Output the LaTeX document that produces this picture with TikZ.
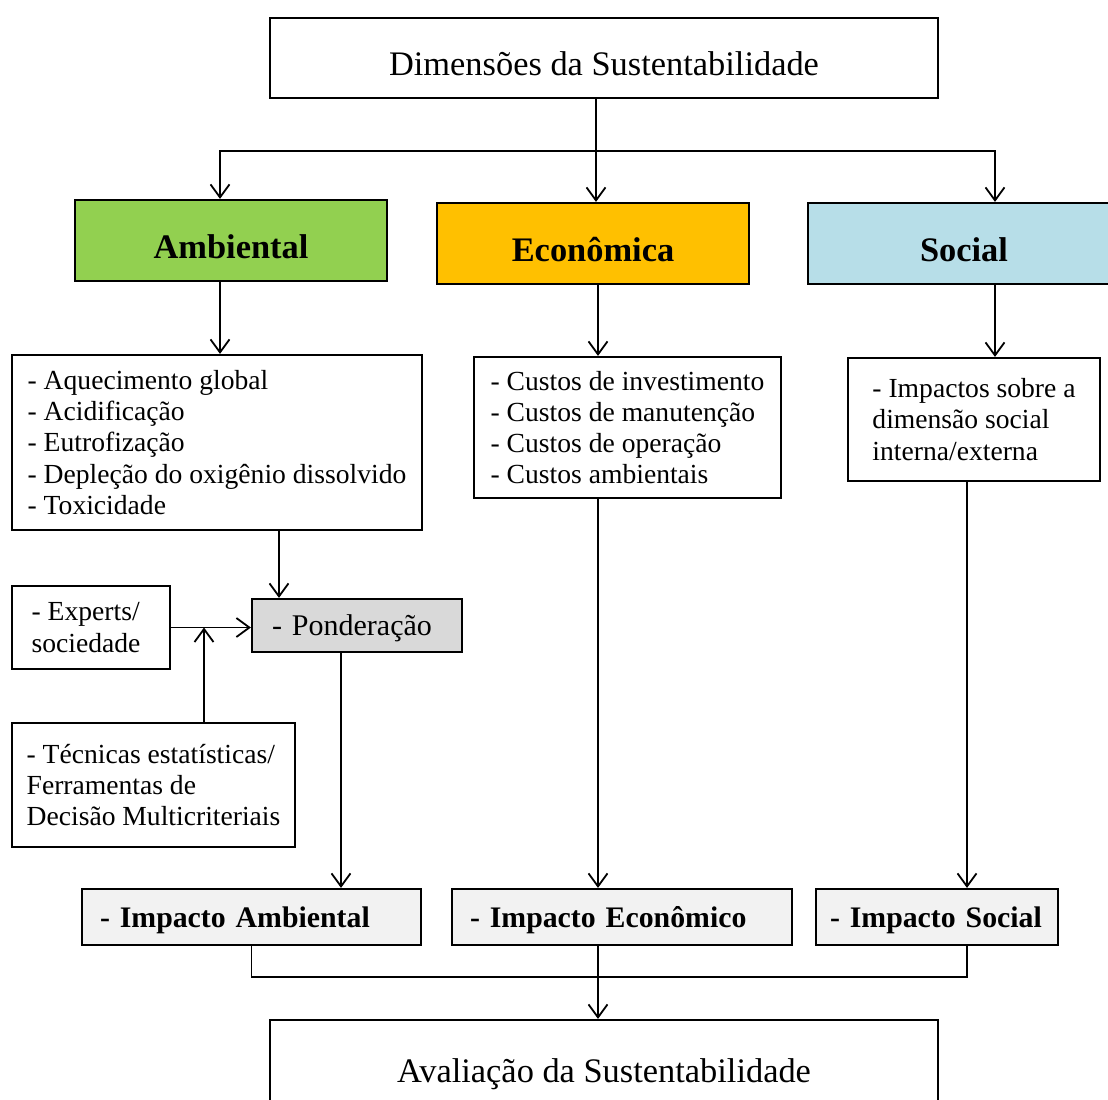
\documentclass[tikz,border=0pt]{standalone}
\usepackage{fontspec}
\setmainfont{Liberation Serif}
\usetikzlibrary{arrows.meta,positioning}
\definecolor{ambgreen}{HTML}{92D050}
\definecolor{ecoorange}{HTML}{FFC000}
\definecolor{socblue}{HTML}{B7DEE8}
\definecolor{pondgray}{HTML}{D9D9D9}
\definecolor{impgray}{HTML}{F2F2F2}
\newcommand{\txtsmall}{\fontsize{13.8pt}{15.6pt}\selectfont}
\newcommand{\txtbig}{\fontsize{17.2pt}{20pt}\selectfont}
\newcommand{\txtimp}{\fontsize{14.9pt}{17pt}\selectfont\bfseries}
\tikzset{
  basic/.style     = {draw, line width=1.1pt, rectangle, inner ysep=0pt},
  headbox/.style   = {basic, fill=white, font=\txtbig, minimum width=334pt,
                      minimum height=40pt, text height=17pt, text depth=0pt},
  dimension/.style = {basic, font=\txtbig\bfseries, minimum width=156pt,
                      minimum height=40.5pt, text height=18.4pt, text depth=0pt},
  listbox/.style   = {basic, fill=white, align=left, font=\txtsmall},
  weight/.style    = {basic, fill=pondgray, align=left, inner xsep=10pt,
                      font=\fontsize{15pt}{17pt}\selectfont, minimum height=26.5pt,
                      text depth=0pt},
  impact/.style    = {basic, fill=impgray, align=left, inner xsep=9pt,
                      font=\txtimp, minimum height=28pt, text depth=0pt},
  link/.style      = {draw, line width=0.9pt, ->}
}

\begin{document}
\begin{tikzpicture}[x=0.5pt, y=-0.5pt, >={Straight Barb[length=6.5pt,width=9.5pt]}]
\useasboundingbox (0,0) rectangle (1108,1099);

% top of the scheme
\node[headbox] (dim) at (604,58) {Dimensões da Sustentabilidade};

% the three dimensions
\node[dimension, fill=ambgreen]   (amb) at (231,240.5) {Ambiental};
\node[dimension, fill=ecoorange]  (eco) at (593,243.5) {Econômica};
\node[dimension, fill=socblue]    (soc) at (964,243.5) {Social};

% what each dimension looks at
\node[listbox, minimum width=205pt, minimum height=87.5pt] (ambl) at (217,442.5)
  {- Aquecimento global\\- Acidificação\\- Eutrofização\\- Depleção do oxigênio dissolvido\\- Toxicidade};
\node[listbox, minimum width=153.5pt, minimum height=70.5pt] (ecol) at (627.5,427.5)
  {- Custos de investimento\\- Custos de manutenção\\- Custos de operação\\- Custos ambientais};
\node[listbox, minimum width=126pt, minimum height=61.5pt] (socl) at (974,419.5)
  {- Impactos sobre a\\dimensão social\\interna/externa};

% weighting of the environmental side
\node[listbox, minimum width=79pt, minimum height=41.5pt] (exp) at (91,627.5)
  {- Experts/\\sociedade\hspace*{5pt}};
\node[weight, text width=85pt] (pond) at (357,625.5) {- Ponderação};
\node[listbox, minimum width=141.5pt, minimum height=62pt] (tec) at (153.5,785)
  {- Técnicas estatísticas/\\Ferramentas de\\Decisão Multicriteriais};

% impacts
\node[impact, text width=151.5pt] (ia) at (251.5,917) {- Impacto Ambiental};
\node[impact, text width=152pt]   (ie) at (622,917)   {- Impacto Econômico};
\node[impact, text width=107pt, inner xsep=7pt] (is) at (937,917) {- Impacto Social};

% bottom of the scheme
\node[headbox, minimum height=41pt, text height=21pt] (aval) at (604,1061) {Avaliação da Sustentabilidade};

% lines from the top to the dimensions
\coordinate (split) at (596,151);
\draw[link] ([xshift=-4pt]dim.south) -- ([xshift=-4pt]dim.south |- eco.north);
\draw[link] (split) -| ([xshift=-5.5pt]amb.north);
\draw[link] (split) -| ([xshift=15.5pt]soc.north);

% dimensions to their lists
\draw[link] ([xshift=-5.5pt]amb.south) -- ([xshift=-5.5pt]amb.south |- ambl.north);
\draw[link] ([xshift=2.5pt]eco.south) -- ([xshift=2.5pt]eco.south |- ecol.north);
\draw[link] ([xshift=15.5pt]soc.south) -- ([xshift=15.5pt]soc.south |- socl.north);

% weighting
\draw[link] ([xshift=-39pt]pond.north |- ambl.south) -- ([xshift=-39pt]pond.north);
\draw[link] (exp.east) -- (exp.east -| pond.west);
\draw[link] ([xshift=25.25pt]tec.north) -- ([xshift=25.25pt]tec.north |- exp.east);

% lists to impacts
\draw[link] ([xshift=-8pt]pond.south) -- ([xshift=-8pt]pond.south |- ia.north);
\draw[link] ([xshift=-14.75pt]ecol.south) -- ([xshift=-14.75pt]ecol.south |- ie.north);
\draw[link] ([xshift=-3.5pt]socl.south) -- ([xshift=-3.5pt]socl.south |- is.north);

% impacts to the assessment
\coordinate (merge) at (598,977);
\draw[line width=0.9pt] (ia.south) |- (merge) -| ([xshift=15pt]is.south);
\draw[link] ([xshift=-12pt]ie.south) -- ([xshift=-12pt]ie.south |- aval.north);

\end{tikzpicture}
\end{document}
